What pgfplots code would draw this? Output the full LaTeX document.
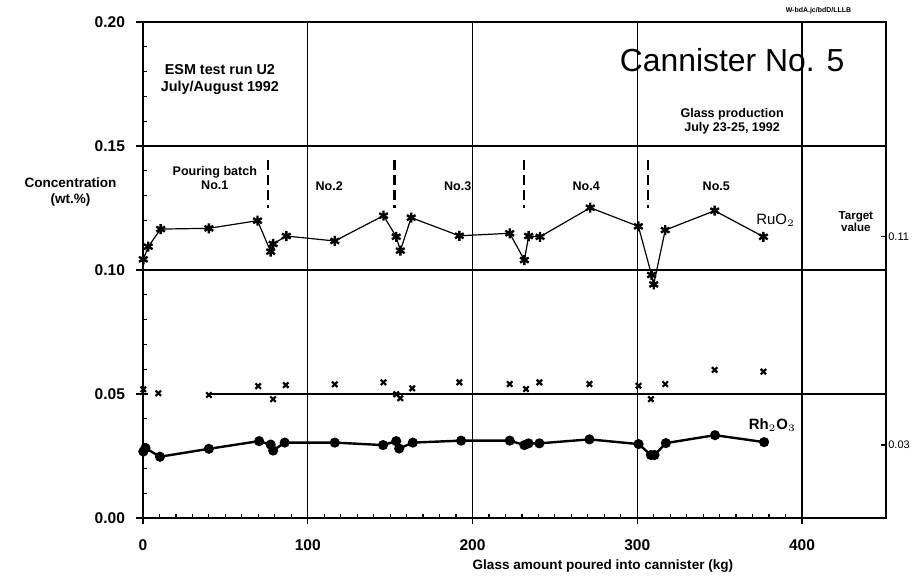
\documentclass[border=0pt]{standalone}
\usepackage{fontspec}
\setmainfont{Liberation Sans}
\usepackage{pgfplots}
\pgfplotsset{compat=1.18}

% RuO2 concentration (wt.%) against glass poured (kg)
\pgfplotstableread{
x y
0.2 0.1043
3.2 0.1094
10.7 0.1165
40 0.1168
69.5 0.1199
77.5 0.1074
79 0.1105
87 0.1137
116.4 0.1117
146 0.1219
153.7 0.1134
156.2 0.1078
162.8 0.1211
192 0.1138
222.6 0.1148
231.5 0.1040
234.1 0.1137
241 0.1134
271.5 0.1251
300.7 0.1176
308.7 0.0980
310 0.0942
317 0.1161
347 0.1239
376.6 0.1134
}\ruo

% unlabelled series near 0.05
\pgfplotstableread{
x y
0.2 0.0519
9.3 0.0503
40 0.0496
69.9 0.0532
79 0.0479
86.7 0.0536
116.4 0.0539
146 0.0547
153.7 0.0499
156.2 0.0483
163.4 0.0523
192 0.0547
222.6 0.0540
232.5 0.0520
240.6 0.0547
271 0.0540
300.8 0.0533
308.3 0.0479
317 0.0540
347 0.0597
376.6 0.0590
}\mid

% Rh2O3
\pgfplotstableread{
x y
0.2 0.0268
1.5 0.0282
10.3 0.0247
40 0.0279
70.5 0.0310
77.5 0.0296
79 0.0272
86 0.0304
116.4 0.0304
145.7 0.0294
153.7 0.0310
155.5 0.0280
163.8 0.0304
193.1 0.0312
222.6 0.0312
231.5 0.0294
234 0.0301
240.6 0.0301
271 0.0317
300.8 0.0298
308.3 0.0254
310.5 0.0254
317.4 0.0302
347.2 0.0334
377 0.0306
}\rho

\begin{document}
\begin{tikzpicture}
\begin{axis}[
  scale only axis, width=371.5bp, height=248bp,
  xmin=0, xmax=451, ymin=0, ymax=0.2,
  clip=false,
  axis line style={line width=1bp},
  xtick={0,100,200,300,400}, minor x tick num=9,
  ytick={0,0.05,0.1,0.15,0.2}, minor y tick num=4,
  tick pos=left, tick align=inside,
  major tick length=2.5bp, minor tick length=2bp,
  every tick/.style={black, line width=0.6bp},
  xmajorgrids, major x grid style={black, line width=0.7bp},
  extra x ticks={0,100,200,300,400}, extra x tick labels={},
  extra x tick style={tick align=outside, major tick length=3bp, xmajorgrids=false},
  extra y ticks={0,0.05,0.1,0.15,0.2}, extra y tick labels={},
  extra y tick style={tick align=outside, major tick length=3.5bp},
  /pgf/number format/assume math mode=true,
  ticklabel style={font=\fontsize{7.8}{9}\selectfont\bfseries},
  xticklabel style={yshift=-7.5bp},
  yticklabel style={xshift=-5.5bp, /pgf/number format/fixed,
    /pgf/number format/fixed zerofill, /pgf/number format/precision=2},
  xlabel={Glass amount poured into cannister (kg)},
  xlabel style={at={(axis description cs:0.619,0)}, anchor=center, yshift=-24bp,
    font=\fontsize{6.8}{8}\selectfont\bfseries},
]
% horizontal grid lines
\addplot[black, line width=0.9bp] coordinates {(0,0.15)(451,0.15)};
\addplot[black, line width=0.9bp] coordinates {(0,0.10)(451,0.10)};
\addplot[black, line width=0.9bp] coordinates {(40,0.05)(451,0.05)};

% pouring batch dividers
\addplot[black, line width=1.1bp, dash pattern=on 5bp off 2.5bp] coordinates {(76,0.1444)(76,0.125)};
\addplot[black, line width=1.1bp, dash pattern=on 5bp off 2.5bp] coordinates {(152.7,0.1444)(152.7,0.125)};
\addplot[black, line width=1.1bp, dash pattern=on 5bp off 2.5bp] coordinates {(231.5,0.1444)(231.5,0.125)};
\addplot[black, line width=1.1bp, dash pattern=on 5bp off 2.5bp] coordinates {(306.3,0.1444)(306.3,0.125)};

% data
\addplot[black, line width=0.6bp, mark=asterisk, mark size=2.5bp,
  mark options={line width=1.2bp, solid}] table[x=x, y=y] {\ruo};
\addplot[black, only marks, mark=x, mark size=1.9bp,
  mark options={line width=1.1bp}] table[x=x, y=y] {\mid};
\addplot[black, line width=1.2bp, mark=*, mark size=1.9bp] table[x=x, y=y] {\rho};

% target value marks on the right
\addplot[black, line width=0.6bp] coordinates {(448,0.1134)(451,0.1134)};
\addplot[black, line width=0.6bp] coordinates {(448,0.0294)(451,0.0294)};

% text
\node[font=\fontsize{6.8}{8}\selectfont\bfseries, align=center]
  at (axis cs:-44,0.1316) {Concentration\\(wt.\%)};
\node[font=\fontsize{7.2}{8.6}\selectfont\bfseries, align=center]
  at (axis cs:46.7,0.1768) {ESM test run U2\\July/August 1992};
\node[font=\fontsize{16}{18}\selectfont] at (axis cs:357.6,0.1845) {Cannister No. 5};
\node[font=\fontsize{6.3}{7.2}\selectfont\bfseries, align=center]
  at (axis cs:357.6,0.1600) {Glass production\\July 23-25, 1992};
\node[font=\fontsize{6.3}{7.2}\selectfont\bfseries, align=center]
  at (axis cs:43.6,0.1370) {Pouring batch\\No.1};
\node[font=\fontsize{6.3}{7.2}\selectfont\bfseries] at (axis cs:113,0.1336) {No.2};
\node[font=\fontsize{6.3}{7.2}\selectfont\bfseries] at (axis cs:191,0.1336) {No.3};
\node[font=\fontsize{6.3}{7.2}\selectfont\bfseries] at (axis cs:269,0.1336) {No.4};
\node[font=\fontsize{6.3}{7.2}\selectfont\bfseries] at (axis cs:348,0.1336) {No.5};
\node[font=\fontsize{7.5}{9}\selectfont] at (axis cs:384,0.1200) {RuO$_2$};
\node[font=\fontsize{7.5}{9}\selectfont\bfseries] at (axis cs:382,0.0375) {Rh$_2$O$_3$};
\node[font=\fontsize{5.8}{6}\selectfont\bfseries, align=center]
  at (axis cs:432.7,0.1195) {Target\\value};
\node[font=\fontsize{5.5}{6}\selectfont, anchor=west, inner sep=1bp]
  at (axis cs:451,0.1134) {0.11};
\node[font=\fontsize{5.5}{6}\selectfont, anchor=west, inner sep=1bp]
  at (axis cs:451,0.0294) {0.03};
\node[font=\fontsize{3.5}{4}\selectfont\bfseries, anchor=south]
  at (axis cs:410,0.2003) {W-bdA.jc/bdD/LLLB};
\end{axis}
\pgfresetboundingbox
\path[use as bounding box] (-71.5bp,-32bp) rectangle (385.5bp,259bp);
\end{tikzpicture}
\end{document}
